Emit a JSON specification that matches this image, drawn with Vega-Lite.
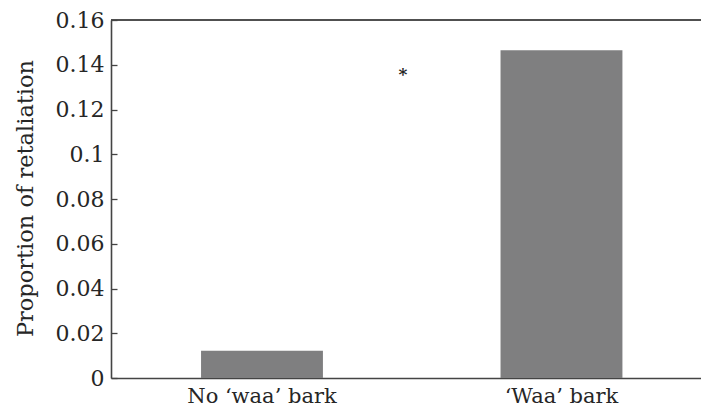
{
  "$schema": "https://vega.github.io/schema/vega-lite/v6.json",
  "width": 590,
  "height": 358,
  "autosize": "none",
  "padding": {"left": 111, "top": 20, "right": 0, "bottom": 36},
  "background": "white",
  "config": {
    "view": {"stroke": null},
    "font": "DejaVu Serif"
  },
  "datasets": {
    "bars": [
      {"condition": "No ‘waa’ bark", "proportion": 0.0122},
      {"condition": "‘Waa’ bark", "proportion": 0.1465}
    ],
    "marks": [
      {"condition": "‘Waa’ bark", "proportion": 0.1355, "label": "*"}
    ]
  },
  "layer": [
    {
      "data": {"name": "bars"},
      "mark": {"type": "bar", "color": "#7f7f80"},
      "encoding": {
        "x": {
          "field": "condition",
          "type": "nominal",
          "sort": null,
          "scale": {"paddingInner": 0.593, "paddingOuter": 0.2815, "align": 0.534},
          "axis": {
            "title": null,
            "labelAngle": 0,
            "ticks": false,
            "labelPadding": 7,
            "labelFont": "DejaVu Serif",
            "labelFontSize": 21,
            "labelColor": "#262626",
            "domainColor": "#444444",
            "domainWidth": 1.6
          }
        },
        "y": {
          "field": "proportion",
          "type": "quantitative",
          "scale": {"domain": [0, 0.16], "nice": false},
          "axis": {
            "title": "Proportion of retaliation",
            "values": [0, 0.02, 0.04, 0.06, 0.08, 0.1, 0.12, 0.14, 0.16],
            "format": "~g",
            "grid": false,
            "tickSize": -6,
            "tickColor": "#444444",
            "tickWidth": 1.3,
            "labelPadding": 13,
            "labelFont": "DejaVu Serif",
            "labelFontSize": 22,
            "labelColor": "#262626",
            "domainColor": "#444444",
            "domainWidth": 1.6,
            "titleFont": "DejaVu Serif",
            "titleFontSize": 22.5,
            "titleFontWeight": "normal",
            "titleColor": "#262626",
            "titleX": -86,
            "titleY": 178,
            "titleAlign": "center",
            "titleBaseline": "middle",
            "titleAngle": -90
          }
        }
      }
    },
    {
      "data": {"name": "bars"},
      "mark": {"type": "rule", "color": "#444444", "strokeWidth": 1.6},
      "encoding": {"y": {"datum": 0.16}}
    },
    {
      "data": {"name": "marks"},
      "mark": {"type": "text", "font": "DejaVu Serif", "fontSize": 17, "fontWeight": "bold", "color": "#262626", "baseline": "middle"},
      "encoding": {
        "x": {"field": "condition", "type": "nominal", "bandPosition": -0.8},
        "y": {"field": "proportion", "type": "quantitative"},
        "text": {"field": "label"}
      }
    }
  ]
}
